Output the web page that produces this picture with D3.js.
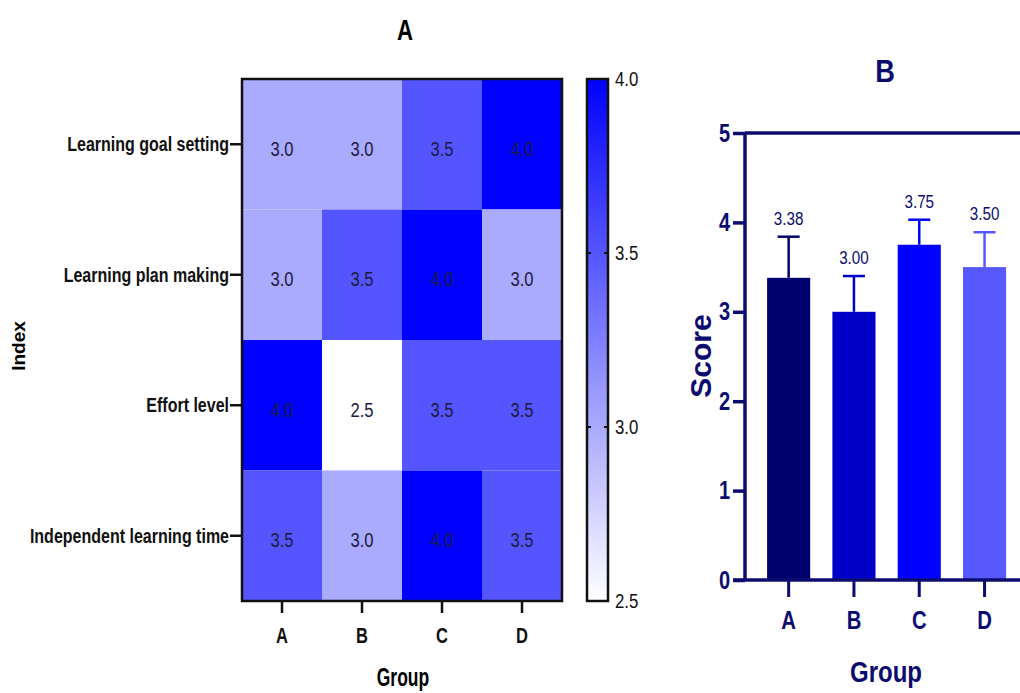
<!DOCTYPE html>
<html>
<head>
<meta charset="utf-8">
<script src="https://cdn.jsdelivr.net/npm/d3@7"></script>
<style>
  body { margin: 0; background: #fff; }
  text { font-family: "Liberation Sans", Arial, sans-serif; }
</style>
</head>
<body>
<div id="chart"></div>
<script>
// heatmap data (panel A)
var groups = ["A", "B", "C", "D"];
var indexes = ["Learning goal setting", "Learning plan making", "Effort level", "Independent learning time"];
var heatValues = [
  [3.0, 3.0, 3.5, 4.0],
  [3.0, 3.5, 4.0, 3.0],
  [4.0, 2.5, 3.5, 3.5],
  [3.5, 3.0, 4.0, 3.5]
];
var colorTicks = [2.5, 3.0, 3.5, 4.0];

// bar data (panel B)
var scores = [3.38, 3.00, 3.75, 3.50];
var errors = [0.46, 0.40, 0.28, 0.39];
var scoreTicks = [0, 1, 2, 3, 4, 5];
var barColors = ["#00006e", "#0000c8", "#0000ff", "#5858ff"];

var svg = d3.select("#chart").append("svg")
  .attr("width", 1020)
  .attr("height", 693);

var navy = "#0c0c70";

// squeeze text horizontally (no narrow font installed)
function narrow(sel, f) {
  sel.each(function () {
    var t = d3.select(this);
    var x0 = +(t.attr("x") || 0);
    var tr = t.attr("transform") || "";
    t.attr("x", x0 / f).attr("transform", (tr + ` scale(${f},1)`).trim());
  });
}

// ---------- panel A ----------
var hm = { left: 242, right: 562, top: 79, bottom: 601 };

var x = d3.scaleBand().domain(groups).range([hm.left, hm.right]);
var y = d3.scaleBand().domain(indexes).range([hm.top, hm.bottom]);
var color = d3.scaleLinear().domain([2.5, 4.0]).range(["#ffffff", "#0000ff"]);

var cells = [];
heatValues.forEach(function (row, i) {
  row.forEach(function (v, j) {
    cells.push({ idx: indexes[i], grp: groups[j], value: v });
  });
});

svg.append("g").selectAll("rect")
  .data(cells)
  .enter()
  .append("rect")
  .attr("x", d => x(d.grp))
  .attr("y", d => y(d.idx))
  .attr("width", x.bandwidth())
  .attr("height", y.bandwidth())
  .attr("fill", d => color(d.value));

var cellText = svg.append("g").selectAll("text")
  .data(cells)
  .enter()
  .append("text")
  .attr("x", d => x(d.grp) + x.bandwidth() / 2)
  .attr("y", d => y(d.idx) + y.bandwidth() / 2 + 4)
  .attr("dy", "0.35em")
  .attr("text-anchor", "middle")
  .attr("font-size", 21)
  .attr("fill", "#1c1c3c")
  .text(d => d.value.toFixed(1));
narrow(cellText, 0.79);

// frame
svg.append("rect")
  .attr("x", hm.left).attr("y", hm.top)
  .attr("width", hm.right - hm.left).attr("height", hm.bottom - hm.top)
  .attr("fill", "none").attr("stroke", "#111").attr("stroke-width", 2.5);

var leftAxis = d3.axisLeft(y).tickSize(12).tickPadding(1);
var gl = svg.append("g").attr("transform", `translate(${hm.left},0)`).call(leftAxis);
gl.select(".domain").remove();
gl.selectAll("line").attr("stroke", "#111").attr("stroke-width", 2.5);
gl.selectAll("text").attr("font-size", 20).attr("font-weight", "bold").attr("fill", "#111")
  .attr("dy", "0.36em");
narrow(gl.selectAll("text"), 0.8);

var bottomAxis = d3.axisBottom(x).tickSize(12).tickPadding(14);
var gb = svg.append("g").attr("transform", `translate(0,${hm.bottom})`).call(bottomAxis);
gb.select(".domain").remove();
gb.selectAll("line").attr("stroke", "#111").attr("stroke-width", 2.5);
gb.selectAll("text").attr("font-size", 22).attr("font-weight", "bold").attr("fill", "#111");
narrow(gb.selectAll("text"), 0.75);

var tA = svg.append("text").attr("x", 405).attr("y", 40).attr("text-anchor", "middle")
  .attr("font-size", 30).attr("font-weight", "bold").text("A");
narrow(tA, 0.74);
var tG = svg.append("text").attr("x", 403).attr("y", 686).attr("text-anchor", "middle")
  .attr("font-size", 25).attr("font-weight", "bold").text("Group");
narrow(tG, 0.7);
svg.append("text").attr("transform", "translate(25,346) rotate(-90)").attr("text-anchor", "middle")
  .attr("font-size", 19).attr("font-weight", "bold").text("Index");

// colour bar
var cb = { x: 587, w: 21 };
var cy = d3.scaleLinear().domain([2.5, 4.0]).range([hm.bottom, hm.top]);
var grad = svg.append("defs").append("linearGradient")
  .attr("id", "cbgrad").attr("x1", 0).attr("y1", 1).attr("x2", 0).attr("y2", 0);
grad.append("stop").attr("offset", "0%").attr("stop-color", color(2.5));
grad.append("stop").attr("offset", "100%").attr("stop-color", color(4.0));
svg.append("rect")
  .attr("x", cb.x).attr("y", hm.top).attr("width", cb.w).attr("height", hm.bottom - hm.top)
  .attr("fill", "url(#cbgrad)").attr("stroke", "#111").attr("stroke-width", 2.5);
var cbTicks = svg.append("g").selectAll("g").data(colorTicks).enter().append("g");
cbTicks.filter(d => d > 2.5 && d < 4.0).append("line")
  .attr("x1", cb.x).attr("x2", cb.x + 4).attr("y1", d => cy(d)).attr("y2", d => cy(d))
  .attr("stroke", "#111").attr("stroke-width", 2);
cbTicks.filter(d => d > 2.5 && d < 4.0).append("line")
  .attr("x1", cb.x + cb.w - 4).attr("x2", cb.x + cb.w).attr("y1", d => cy(d)).attr("y2", d => cy(d))
  .attr("stroke", "#111").attr("stroke-width", 2);
var cbText = cbTicks.append("text")
  .attr("x", cb.x + cb.w + 7).attr("y", d => cy(d)).attr("dy", "0.35em")
  .attr("font-size", 21).attr("fill", "#111").text(d => d.toFixed(1));
narrow(cbText, 0.8);

// ---------- panel B ----------
var by = d3.scaleLinear().domain([0, 5]).range([580, 133]);
var bx = d3.scaleBand().domain(groups).range([756, 1017.2]).paddingInner(0.34).paddingOuter(0.17);
var axX = 745;

svg.append("g").selectAll("rect")
  .data(scores)
  .enter()
  .append("rect")
  .attr("x", (d, i) => bx(groups[i]))
  .attr("y", d => by(d))
  .attr("width", bx.bandwidth())
  .attr("height", d => by(0) - by(d))
  .attr("fill", (d, i) => barColors[i]);

// error bars (upper only)
var eb = svg.append("g").selectAll("g").data(scores).enter().append("g");
eb.append("line")
  .attr("x1", (d, i) => bx(groups[i]) + bx.bandwidth() / 2)
  .attr("x2", (d, i) => bx(groups[i]) + bx.bandwidth() / 2)
  .attr("y1", d => by(d))
  .attr("y2", (d, i) => by(d + errors[i]))
  .attr("stroke", (d, i) => barColors[i]).attr("stroke-width", 2.5);
eb.append("line")
  .attr("x1", (d, i) => bx(groups[i]) + bx.bandwidth() / 2 - 11)
  .attr("x2", (d, i) => bx(groups[i]) + bx.bandwidth() / 2 + 11)
  .attr("y1", (d, i) => by(d + errors[i]))
  .attr("y2", (d, i) => by(d + errors[i]))
  .attr("stroke", (d, i) => barColors[i]).attr("stroke-width", 2.5);
var ebText = eb.append("text")
  .attr("x", (d, i) => bx(groups[i]) + bx.bandwidth() / 2)
  .attr("y", (d, i) => by(d + errors[i]) - 12)
  .attr("text-anchor", "middle")
  .attr("font-size", 19).attr("fill", navy)
  .text(d => d.toFixed(2));
narrow(ebText, 0.8);

// axes
var bLeft = d3.axisLeft(by).tickValues(scoreTicks).tickSize(12).tickPadding(3).tickFormat(d3.format("d"));
var gbl = svg.append("g").attr("transform", `translate(${axX},0)`).call(bLeft);
gbl.select(".domain").attr("stroke", navy).attr("stroke-width", 3.5).attr("d", `M0,${by(5)}V${by(0)}`);
gbl.selectAll("line").attr("stroke", navy).attr("stroke-width", 3.5);
gbl.selectAll("text").attr("font-size", 25).attr("font-weight", "bold").attr("fill", navy);
narrow(gbl.selectAll("text"), 0.8);

// top and bottom lines
svg.append("line").attr("x1", axX).attr("x2", 1020).attr("y1", by(5)).attr("y2", by(5))
  .attr("stroke", navy).attr("stroke-width", 3.5);
var bBottom = d3.axisBottom(bx).tickSize(17).tickPadding(14);
var gbb = svg.append("g").attr("transform", `translate(0,${by(0)})`).call(bBottom);
gbb.select(".domain").remove();
gbb.selectAll("line").attr("stroke", navy).attr("stroke-width", 3);
gbb.selectAll("text").attr("font-size", 26).attr("font-weight", "bold").attr("fill", navy);
narrow(gbb.selectAll("text"), 0.78);
svg.append("line").attr("x1", axX - 12).attr("x2", 1020).attr("y1", by(0)).attr("y2", by(0))
  .attr("stroke", navy).attr("stroke-width", 3.5);

var tB = svg.append("text").attr("x", 885).attr("y", 82).attr("text-anchor", "middle")
  .attr("font-size", 32).attr("font-weight", "bold").attr("fill", navy).text("B");
narrow(tB, 0.85);
var tG2 = svg.append("text").attr("x", 886).attr("y", 682).attr("text-anchor", "middle")
  .attr("font-size", 30).attr("font-weight", "bold").attr("fill", navy).text("Group");
narrow(tG2, 0.8);
svg.append("text").attr("transform", "translate(711,356) rotate(-90)").attr("text-anchor", "middle")
  .attr("font-size", 30).attr("font-weight", "bold").attr("fill", navy).text("Score");
</script>
</body>
</html>
